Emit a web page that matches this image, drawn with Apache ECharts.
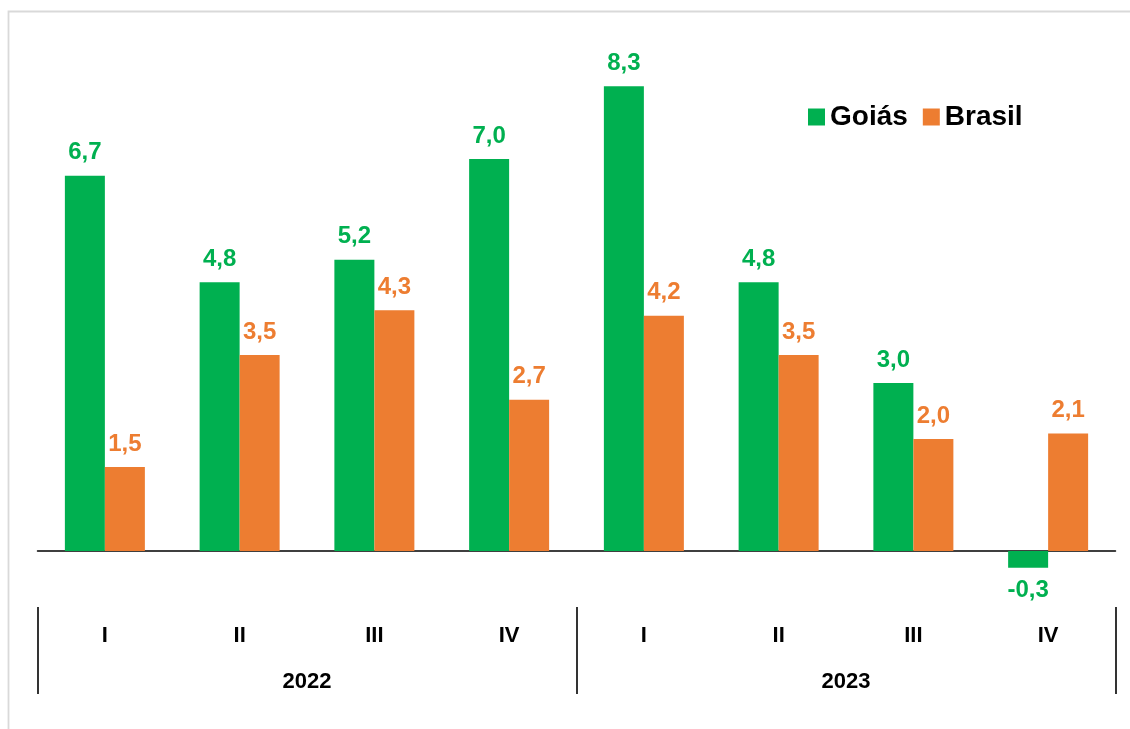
<!DOCTYPE html>
<html>
<head>
<meta charset="utf-8">
<script src="https://cdn.jsdelivr.net/npm/echarts@6/dist/echarts.min.js"></script>
<style>
html,body{margin:0;padding:0;background:#fff;}
#chart{width:1130px;height:729px;}
</style>
</head>
<body>
<div id="chart"></div>
<script>
const quarters = ['I','II','III','IV','I','II','III','IV'];
const years = ['2022','2023'];
const goias = [6.7, 4.8, 5.2, 7.0, 8.3, 4.8, 3.0, -0.3];
const brasil = [1.5, 3.5, 4.3, 2.7, 4.2, 3.5, 2.0, 2.1];

const GREEN = '#00b050';
const ORANGE = '#ed7d31';
const FONT = '"Liberation Sans", Arial, sans-serif';

function fmt(p){ return Number(p.value).toFixed(1).replace('.', ','); }
function toItems(arr){
  return arr.map(v => v < 0 ? {value: v, label: {position: 'bottom'}} : v);
}

const chart = echarts.init(document.getElementById('chart'));
chart.setOption({
  animation: false,
  backgroundColor: '#fff',
  graphic: [{
    type: 'rect', silent: true,
    shape: {x: 8.5, y: 11.5, width: 1200, height: 800},
    style: {fill: 'none', stroke: '#d9d9d9', lineWidth: 1.8}
  }],
  legend: {
    left: 803, top: 98,
    itemWidth: 17, itemHeight: 17, itemGap: 15,
    icon: 'rect',
    textStyle: {fontFamily: FONT, fontSize: 28, fontWeight: 'bold', color: '#000'},
    data: ['Goiás', 'Brasil']
  },
  grid: {left: 37.5, right: 14.5, top: 47, bottom: 122, containLabel: false},
  xAxis: [
    {
      type: 'category', data: quarters,
      axisLine: {show: true, onZero: true, lineStyle: {color: '#000', width: 1.5}},
      axisTick: {show: false}, axisLabel: {show: false}
    },
    {
      type: 'category', data: quarters, position: 'bottom',
      axisLine: {show: false, onZero: false}, axisTick: {show: false},
      axisLabel: {margin: 18, fontFamily: FONT, fontSize: 22, fontWeight: 'bold', color: '#000'}
    },
    {
      type: 'category', data: years, position: 'bottom',
      axisLine: {show: false, onZero: false},
      axisTick: {show: true, length: 87, lineStyle: {color: '#000', width: 1.6}},
      axisLabel: {margin: 64, fontFamily: FONT, fontSize: 22, fontWeight: 'bold', color: '#000'}
    }
  ],
  yAxis: {
    type: 'value', min: -1, max: 9,
    show: false, splitLine: {show: false}
  },
  series: [
    {
      name: 'Goiás', type: 'bar', xAxisIndex: 0,
      data: toItems(goias),
      barWidth: 40, barGap: '0%',
      itemStyle: {color: GREEN},
      label: {show: true, position: 'top', distance: 11, formatter: fmt,
        fontFamily: FONT, fontSize: 24, fontWeight: 'bold', color: GREEN}
    },
    {
      name: 'Brasil', type: 'bar', xAxisIndex: 0,
      data: toItems(brasil),
      barWidth: 40, barGap: '0%',
      itemStyle: {color: ORANGE},
      label: {show: true, position: 'top', distance: 11, formatter: fmt,
        fontFamily: FONT, fontSize: 24, fontWeight: 'bold', color: ORANGE}
    }
  ]
});
</script>
</body>
</html>
